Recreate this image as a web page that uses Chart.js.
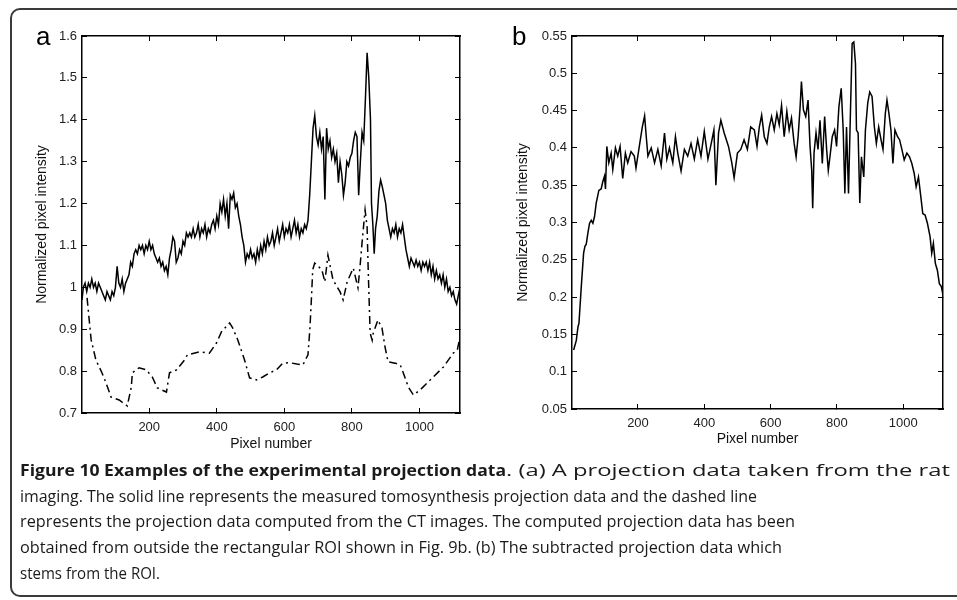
<!DOCTYPE html>
<html>
<head>
<meta charset="utf-8">
<script src="https://cdn.jsdelivr.net/npm/chart.js@4.4.0/dist/chart.umd.min.js"></script>
<style>
    html, body { margin: 0; padding: 0; background: #fff; }
    #page { width: 957px; height: 600px; overflow: hidden; position: relative; font-family: "Liberation Sans", Arial, sans-serif; }
    #frame { position: absolute; left: 10px; top: 8px; width: 980px; height: 589px; border: 2px solid #3a3a3a; border-radius: 10px; box-sizing: border-box; }
    .panel { position: absolute; top: 0; height: 460px; }
    #panelA { left: 0; width: 480px; }
    #panelB { left: 480px; width: 477px; }
    .tag { position: absolute; font-size: 26px; line-height: 1; color: #000; }
    #caption { position: absolute; left: 0; top: 457px; width: 957px; height: 140px; font-family: "Open Sans", sans-serif; font-size: 16.5px; line-height: 25.7px; color: #1a1a1a; }
    .ln { position: absolute; white-space: nowrap; transform-origin: 0 50%; }
</style>
</head>
<body>
<div id="page">
<div id="frame"></div>
<div class="panel" id="panelA"><canvas id="chartA"></canvas></div>
<div class="panel" id="panelB"><canvas id="chartB"></canvas></div>
<div class="tag" style="left:36px; top:23px;">a</div>
<div class="tag" style="left:512px; top:23px;">b</div>
<div id="caption">
<span class="ln" data-row="0" data-start="20" data-end="506"><b>Figure 10 Examples of the experimental projection data</b></span>
<span class="ln" data-row="0" data-start="506" data-end="950">. (a) A projection data taken from the rat</span>
<span class="ln" data-row="1" data-start="20" data-end="757">imaging. The solid line represents the measured tomosynthesis projection data and the dashed line</span>
<span class="ln" data-row="2" data-start="20" data-end="795">represents the projection data computed from the CT images. The computed projection data has been</span>
<span class="ln" data-row="3" data-start="20" data-end="782">obtained from outside the rectangular ROI shown in Fig. 9b. (b) The subtracted projection data which</span>
<span class="ln" data-row="4" data-start="20" data-end="160">stems from the ROI.</span>
</div>
</div>

<script>
// x ticks shared by both panels
const xTicks = [200, 400, 600, 800, 1000];
const xLabels = ['200', '400', '600', '800', '1000'];

// panel a: y ticks
const yTicksA = [0.7, 0.8, 0.9, 1.0, 1.1, 1.2, 1.3, 1.4, 1.5, 1.6];
const yLabelsA = ['0.7', '0.8', '0.9', '1', '1.1', '1.2', '1.3', '1.4', '1.5', '1.6'];

// panel a: measured tomosynthesis projection (solid)
const aSolidX = [1, 5, 10, 15, 20, 25, 30, 35, 40, 45,
    50, 55, 60, 65, 70, 75, 80, 85, 90, 95,
    100, 105, 110, 115, 120, 125, 130, 135, 140, 145,
    150, 155, 160, 165, 170, 175, 180, 185, 190, 195,
    200, 205, 210, 215, 220, 225, 230, 235, 240, 245,
    250, 255, 260, 265, 270, 275, 280, 285, 290, 295,
    300, 305, 310, 315, 320, 325, 330, 335, 340, 345,
    350, 355, 360, 365, 370, 375, 380, 385, 390, 395,
    400, 405, 410, 415, 420, 425, 430, 435, 440, 445,
    450, 455, 460, 465, 470, 475, 480, 485, 490, 495,
    500, 505, 510, 515, 520, 525, 530, 535, 540, 545,
    550, 555, 560, 565, 570, 575, 580, 585, 590, 595,
    600, 605, 610, 615, 620, 625, 630, 635, 640, 645,
    650, 655, 660, 665, 670, 675, 680, 685, 690, 695,
    700, 705, 710, 715, 720, 725, 730, 735, 740, 745,
    750, 755, 760, 765, 770, 775, 780, 785, 790, 795,
    800, 805, 810, 815, 820, 825, 830, 835, 840, 845,
    850, 855, 858, 862, 866, 870, 875, 880, 885, 890,
    895, 900, 905, 910, 915, 920, 925, 930, 935, 940,
    945, 950, 955, 960, 965, 970, 975, 980, 985, 990,
    995, 1000, 1005, 1010, 1015, 1020, 1025, 1030, 1035, 1040,
    1045, 1050, 1055, 1060, 1065, 1070, 1075, 1080, 1085, 1090,
    1095, 1100, 1105, 1110, 1115, 1120];
const aSolidY = [0.97, 1.00, 1.01, 0.99, 1.01, 1.00, 1.02, 1.00, 1.01, 0.99,
    1.01, 1.00, 0.99, 0.98, 0.97, 0.99, 0.98, 0.97, 0.99, 0.98,
    1.00, 1.05, 1.01, 1.00, 1.02, 0.99, 1.01, 1.02, 1.03, 1.06,
    1.05, 1.08, 1.09, 1.08, 1.10, 1.09, 1.10, 1.08, 1.10, 1.09,
    1.11, 1.09, 1.10, 1.08, 1.07, 1.06, 1.07, 1.05, 1.06, 1.04,
    1.05, 1.03, 1.07, 1.09, 1.12, 1.11, 1.06, 1.07, 1.09, 1.08,
    1.11, 1.10, 1.13, 1.12, 1.13, 1.12, 1.14, 1.12, 1.13, 1.15,
    1.12, 1.14, 1.13, 1.15, 1.12, 1.14, 1.13, 1.15, 1.16, 1.14,
    1.17, 1.15, 1.20, 1.18, 1.21, 1.17, 1.20, 1.14, 1.22, 1.21,
    1.225, 1.19, 1.20, 1.17, 1.15, 1.12, 1.10, 1.06, 1.08, 1.07,
    1.09, 1.07, 1.08, 1.06, 1.09, 1.07, 1.10, 1.08, 1.11, 1.09,
    1.12, 1.10, 1.11, 1.13, 1.10, 1.12, 1.14, 1.11, 1.13, 1.15,
    1.12, 1.14, 1.13, 1.15, 1.12, 1.14, 1.16, 1.13, 1.15, 1.12,
    1.14, 1.13, 1.15, 1.14, 1.16, 1.22, 1.30, 1.38, 1.41, 1.36,
    1.34, 1.37, 1.33, 1.36, 1.21, 1.38, 1.33, 1.35, 1.31, 1.33,
    1.30, 1.32, 1.25, 1.30, 1.27, 1.22, 1.25, 1.30, 1.29, 1.31,
    1.32, 1.35, 1.37, 1.36, 1.22, 1.30, 1.37, 1.35, 1.45, 1.56,
    1.50, 1.40, 1.20, 1.15, 1.08, 1.14, 1.17, 1.23, 1.256, 1.24,
    1.22, 1.20, 1.16, 1.14, 1.12, 1.14, 1.13, 1.15, 1.12, 1.14,
    1.13, 1.15, 1.12, 1.09, 1.07, 1.05, 1.07, 1.06, 1.05, 1.065,
    1.05, 1.06, 1.04, 1.06, 1.05, 1.06, 1.04, 1.06, 1.03, 1.05,
    1.02, 1.04, 1.02, 1.03, 1.01, 1.03, 1.00, 1.02, 0.99, 1.00,
    0.98, 0.99, 0.97, 0.96, 0.98, 1.00];

// panel a: projection computed from CT images (dashed)
const aDashX = [16, 28, 42, 60, 72, 87, 111, 135, 147, 150,
    170, 191, 209, 224, 251, 260, 281, 305, 313, 349,
    378, 399, 414, 438, 447, 462, 482, 497, 518, 536,
    557, 577, 595, 616, 637, 655, 670, 676, 681, 684,
    690, 711, 720, 729, 744, 765, 774, 786, 804, 818,
    824, 830, 839, 845, 848, 854, 860, 863, 877, 889,
    898, 907, 928, 943, 952, 967, 982, 1002, 1023, 1041,
    1071, 1100, 1112, 1118];
const aDashY = [0.975, 0.875, 0.827, 0.796, 0.772, 0.738, 0.731, 0.717, 0.762, 0.796,
    0.808, 0.803, 0.786, 0.76, 0.75, 0.796, 0.803, 0.827, 0.839, 0.846,
    0.843, 0.867, 0.894, 0.915, 0.903, 0.875, 0.827, 0.784, 0.779, 0.786,
    0.796, 0.803, 0.819, 0.82, 0.817, 0.815, 0.839, 0.906, 0.987, 1.042,
    1.058, 1.042, 1.013, 1.077, 1.018, 0.989, 0.97, 1.013, 1.046, 0.999,
    1.049, 1.106, 1.185, 1.144, 1.049, 0.891, 0.874, 0.89, 0.922, 0.903,
    0.858, 0.822, 0.819, 0.815, 0.796, 0.762, 0.743, 0.755, 0.772, 0.786,
    0.81, 0.843, 0.85, 0.874];

// panel b: y ticks
const yTicksB = [0.05, 0.1, 0.15, 0.2, 0.25, 0.3, 0.35, 0.4, 0.45, 0.5, 0.55];
const yLabelsB = ['0.05', '0.1', '0.15', '0.2', '0.25', '0.3', '0.35', '0.4', '0.45', '0.5', '0.55'];

// panel b: subtracted projection (ROI)
const bX = [6, 14, 19, 22, 29, 36, 40, 44, 49, 54,
    59, 64, 69, 74, 82, 89, 94, 99, 102, 106,
    112, 119, 124, 132, 139, 146, 154, 162, 169, 179,
    189, 194, 204, 213, 220, 225, 230, 240, 250, 260,
    270, 280, 287, 295, 305, 313, 320, 330, 340, 350,
    360, 370, 380, 390, 400, 411, 421, 429, 435, 443,
    450, 460, 473, 483, 490, 500, 510, 520, 530, 540,
    551, 559, 566, 573, 581, 589, 596, 603, 611, 619,
    626, 633, 641, 649, 656, 663, 671, 677, 683, 689,
    693, 699, 706, 713, 719, 724, 727, 731, 737, 743,
    749, 756, 763, 769, 774, 779, 786, 793, 799, 806,
    813, 819, 824, 829, 835, 841, 846, 851, 856, 859,
    864, 869, 874, 881, 886, 893, 899, 906, 913, 919,
    926, 933, 939, 946, 951, 957, 963, 969, 975, 983,
    989, 996, 1003, 1011, 1019, 1026, 1033, 1039, 1046, 1053,
    1059, 1066, 1073, 1081, 1086, 1091, 1097, 1103, 1109, 1115,
    1119];
const bY = [0.129, 0.142, 0.16, 0.165, 0.214, 0.259, 0.268, 0.271, 0.286, 0.299,
    0.303, 0.299, 0.308, 0.326, 0.343, 0.345, 0.355, 0.362, 0.345, 0.402,
    0.38, 0.393, 0.371, 0.40, 0.389, 0.402, 0.359, 0.393, 0.38, 0.395,
    0.389, 0.373, 0.402, 0.428, 0.443, 0.415, 0.389, 0.40, 0.38, 0.398,
    0.376, 0.42, 0.385, 0.40, 0.38, 0.415, 0.393, 0.369, 0.398, 0.389,
    0.406, 0.385, 0.411, 0.389, 0.422, 0.385, 0.406, 0.424, 0.35, 0.42,
    0.437, 0.42, 0.402, 0.38, 0.36, 0.393, 0.398, 0.411, 0.398, 0.428,
    0.424, 0.402, 0.428, 0.444, 0.415, 0.406, 0.428, 0.442, 0.424, 0.446,
    0.431, 0.457, 0.415, 0.449, 0.424, 0.44, 0.406, 0.388, 0.415, 0.455,
    0.489, 0.451, 0.442, 0.464, 0.402, 0.37, 0.319, 0.393, 0.42, 0.398,
    0.437, 0.379, 0.442, 0.398, 0.37, 0.388, 0.415, 0.424, 0.402, 0.455,
    0.48, 0.424, 0.339, 0.428, 0.339, 0.451, 0.54, 0.542, 0.513, 0.424,
    0.42, 0.326, 0.388, 0.361, 0.424, 0.46, 0.475, 0.469, 0.428, 0.406,
    0.428, 0.411, 0.398, 0.446, 0.464, 0.446, 0.424, 0.379, 0.424, 0.415,
    0.411, 0.398, 0.384, 0.393, 0.388, 0.379, 0.366, 0.348, 0.361, 0.335,
    0.312, 0.31, 0.299, 0.281, 0.259, 0.272, 0.245, 0.236, 0.218, 0.214,
    0.205];

const toPoints = (xs, ys) => xs.map((x, i) => ({ x: x, y: ys[i] }));

// matlab style box: inward ticks on all four sides
function boxScales(o) {
    const grid = { drawOnChartArea: false, drawTicks: true, tickLength: -5, color: '#000', lineWidth: 1 };
    const border = { display: true, color: '#000', width: 1.5 };
    const tickFont = { family: 'Liberation Sans', size: 13 };
    const titleFont = { family: 'Liberation Sans', size: 14 };
    const setX = s => { s.ticks = xTicks.map(v => ({ value: v })); };
    const setY = s => { s.ticks = o.yTicks.map(v => ({ value: v })); };
    return {
        x: {
            type: 'linear', position: 'bottom', min: 1, max: 1120,
            grid: grid, border: border,
            afterBuildTicks: setX,
            afterFit: s => { s.height = o.xHeight; },
            ticks: { color: '#222', font: tickFont, padding: 12, maxRotation: 0, callback: (v, i) => xLabels[i] },
            title: { display: true, text: 'Pixel number', color: '#111', font: titleFont, padding: { top: 0, bottom: o.xTitlePad } }
        },
        y: {
            type: 'linear', position: 'left', min: o.yTicks[0], max: o.yTicks[o.yTicks.length - 1],
            grid: grid, border: border,
            afterBuildTicks: setY,
            afterFit: s => { s.width = o.yWidth; },
            ticks: { color: '#222', font: tickFont, padding: 10, callback: (v, i) => o.yLabels[i] },
            title: { display: true, text: 'Normalized pixel intensity', color: '#111', font: titleFont, padding: { top: o.yTitlePad, bottom: 0 } }
        },
        xTop: {
            type: 'linear', position: 'top', min: 1, max: 1120,
            grid: grid, border: border,
            afterBuildTicks: setX,
            afterFit: s => { s.height = 0; },
            ticks: { display: false }
        },
        yRight: {
            type: 'linear', position: 'right', min: o.yTicks[0], max: o.yTicks[o.yTicks.length - 1],
            grid: grid, border: border,
            afterBuildTicks: setY,
            afterFit: s => { s.width = 0; },
            ticks: { display: false }
        }
    };
}

function lineSet(points, dash) {
    return {
        data: points, borderColor: '#000', borderWidth: 1.5, borderDash: dash || [],
        pointRadius: 0, tension: 0, fill: false, xAxisID: 'x', yAxisID: 'y'
    };
}

const common = {
    responsive: true, maintainAspectRatio: false, animation: false,
    plugins: { legend: { display: false }, tooltip: { enabled: false } }
};

new Chart(document.getElementById('chartA'), {
    type: 'line',
    data: { datasets: [lineSet(toPoints(aSolidX, aSolidY)), lineSet(toPoints(aDashX, aDashY), [8, 4, 2, 4])] },
    options: Object.assign({}, common, {
        layout: { padding: { left: 0, top: 36, right: 20, bottom: 0 } },
        scales: boxScales({ yTicks: yTicksA, yLabels: yLabelsA, xHeight: 47, yWidth: 82, xTitlePad: 7, yTitlePad: 34 })
    })
});

new Chart(document.getElementById('chartB'), {
    type: 'line',
    data: { datasets: [lineSet(toPoints(bX, bY))] },
    options: Object.assign({}, common, {
        layout: { padding: { left: 0, top: 36, right: 14, bottom: 0 } },
        scales: boxScales({ yTicks: yTicksB, yLabels: yLabelsB, xHeight: 51, yWidth: 92, xTitlePad: 12, yTitlePad: 35 })
    })
});

// place each caption piece and stretch it to the span it has in the figure
document.querySelectorAll('#caption .ln').forEach(el => {
    const start = +el.dataset.start;
    el.style.left = start + 'px';
    el.style.top = (+el.dataset.row * 25.7) + 'px';
    const w = el.getBoundingClientRect().width;
    el.style.transform = 'scaleX(' + ((+el.dataset.end - start) / w) + ')';
});
</script>
</body>
</html>
